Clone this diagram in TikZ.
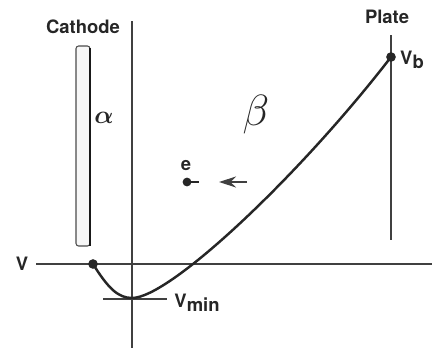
\documentclass[tikz,border=0pt]{standalone}
\usepackage{fontspec}
\setmainfont{TeX Gyre Heros}
\usetikzlibrary{arrows.meta,positioning,calc}

\begin{document}
\begin{tikzpicture}[
  x=0.02cm, y=-0.02cm,
  font=\fontsize{10.5}{11}\selectfont\bfseries,
  axis/.style={draw=black!75, line width=0.8pt},
  curve/.style={draw=black!85, line width=1.4pt},
  lab/.style={inner sep=1pt, text=black!85},
  greek/.style={inner sep=0pt, text=black!85},
  pt/.style={circle, fill=black!85, inner sep=0pt, minimum size=5.5pt},
  arr/.style={-{Stealth[length=3.4mm, width=2.2mm]}, line width=0.7pt, draw=black!75}
]
\useasboundingbox (0,0) rectangle (436,352);

% ---------------- electrodes ----------------
\node[lab] (cathlab) at (83, 27) {Cathode};
\draw[draw=black!70, line width=0.6pt, rounded corners=1.5pt, fill=black!3]
  (76, 246) rectangle (90, 46);
\draw[draw=black!90, line width=1.5pt] (90, 48) -- (90, 246);
\node[lab] (platelab) at (387, 17) {Plate};
\coordinate (plate top) at (391, 35);
\coordinate (plate bot) at (391, 240);
\draw[axis] (plate top) -- (plate bot);

% ---------------- axes ----------------
\coordinate (ax top) at (132, 21);
\coordinate (ax bot) at (132, 348);
\coordinate (v left) at (36, 264);
\coordinate (v right) at (432, 264);
\draw[axis] (ax top) -- (ax bot);
\draw[axis] (v left) -- (v right);
\node[lab] (vlab) at (22, 264) {V};

% ---------------- potential ----------------
\node[pt] (start) at (93, 264) {};
\coordinate (vmin) at (132, 298);
\node[pt] (vb) at (391, 57) {};
\coordinate (tan l) at (103, 299);
\coordinate (tan r) at (167, 299);
\draw[axis, line width=0.6pt] (tan l) -- (tan r);
\draw[curve] (start.center) .. controls (108, 288) and (118, 298) .. (vmin)
  .. controls (170, 298) and (300, 175) .. (vb.center);
\node[lab] (vminlab) at (197, 303) {V\raisebox{-0.45ex}{min}};
\node[lab] (vblab) at (412, 60) {V\raisebox{-0.4ex}{b}};

% ---------------- regions ----------------
\node[greek, font=\fontsize{15}{15}\selectfont\boldmath] (alpha) at (104, 118) {$\alpha$};
\node[greek, font=\fontsize{24}{24}\selectfont] (beta) at (256, 115) {$\beta$};

% ---------------- electron ----------------
\node[lab] (elab) at (186, 166) {e};
\node[pt, minimum size=5pt] (elec) at (187, 182) {};
\coordinate (etail) at (199, 182);
\draw[line width=0.9pt, draw=black!85] (elec.center) -- (etail);
\coordinate (arr tail) at (247, 182);
\coordinate (arr head) at (219, 182);
\draw[arr] (arr tail) -- (arr head);

\end{tikzpicture}
\end{document}
